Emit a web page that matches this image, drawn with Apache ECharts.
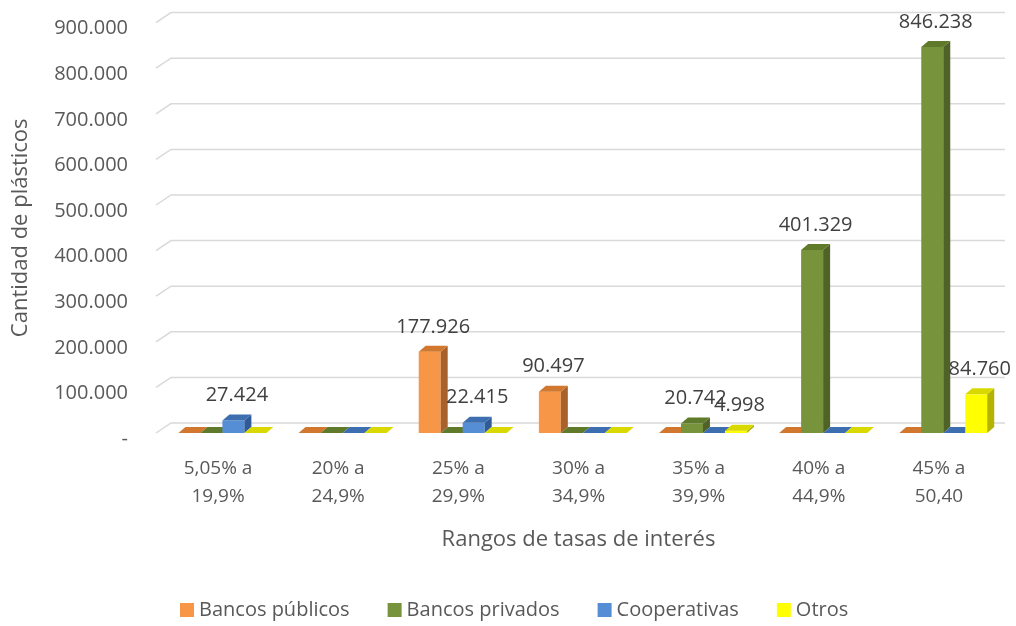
<!DOCTYPE html>
<html>
<head>
<meta charset="utf-8">
<script src="https://cdn.jsdelivr.net/npm/echarts@6/dist/echarts.min.js"></script>
<style>
  html, body { margin: 0; padding: 0; background: #fff; }
  #chart { width: 1016px; height: 626px; }
</style>
</head>
<body>
<div id="chart"></div>
<script>
var categories = ['5,05% a\n19,9%', '20% a\n24,9%', '25% a\n29,9%', '30% a\n34,9%', '35% a\n39,9%', '40% a\n44,9%', '45% a\n50,40']
var bancosPublicos = [0, 0, 177926, 90497, 0, 0, 0]
var bancosPrivados = [0, 0, 0, 0, 20742, 401329, 846238]
var cooperativas = [27424, 0, 22415, 0, 0, 0, 0]
var otros = [0, 0, 0, 0, 4998, 0, 84760]
var yTicks = [0, 100000, 200000, 300000, 400000, 500000, 600000, 700000, 800000, 900000]

var FONT = '"Open Sans", "Liberation Sans", sans-serif'
var DX = 7
var DY = 6

function fmt(v) {
  return String(v).replace(/\B(?=(\d{3})+(?!\d))/g, '.')
}

// 3d-looking bar: front face, side and top
function barRenderer(idx, c) {
  return function (params, api) {
    var cat = api.value(0)
    var val = api.value(1)
    var base = api.coord([cat, 0])
    var top = api.coord([cat, val])
    var band = api.size([1, 0])[0]
    var w = band * 0.183
    var x0 = base[0] - band * 0.33 + idx * w
    var y0 = base[1]
    var y1 = top[1]
    var children = [
      {
        type: 'rect',
        shape: { x: x0, y: y1, width: w, height: y0 - y1 },
        style: { fill: c.front }
      },
      {
        type: 'polygon',
        shape: { points: [[x0 + w, y1], [x0 + w + DX, y1 - DY], [x0 + w + DX, y0 - DY], [x0 + w, y0]] },
        style: { fill: c.side }
      },
      {
        type: 'polygon',
        shape: { points: [[x0, y1], [x0 + DX, y1 - DY], [x0 + w + DX, y1 - DY], [x0 + w, y1]] },
        style: { fill: c.top }
      }
    ]
    if (val > 0) {
      children.push({
        type: 'text',
        style: {
          text: fmt(val),
          x: x0 + w / 2 + DX / 2,
          y: y1 - 25,
          align: 'center',
          verticalAlign: 'middle',
          fill: '#404040',
          fontSize: 20,
          fontFamily: FONT
        }
      })
    }
    return { type: 'group', children: children }
  }
}

function gridRenderer(params, api) {
  var cs = params.coordSys
  var y = api.coord([0, api.value(1)])[1]
  return {
    type: 'polyline',
    shape: { points: [[cs.x - 2, y], [cs.x + 13, y - 10], [cs.x + cs.width + 6, y - 10]] },
    style: { stroke: '#d9d9d9', lineWidth: 1.5, fill: null }
  }
}

var palette = [
  { front: '#F79646', top: '#D2782E', side: '#A8612A' },
  { front: '#77933C', top: '#5F7A2B', side: '#4F6228' },
  { front: '#558ED5', top: '#3D6FB0', side: '#2F5B99' },
  { front: '#FFFF00', top: '#D9D900', side: '#B3B300' }
]
var names = ['Bancos públicos', 'Bancos privados', 'Cooperativas', 'Otros']
var values = [bancosPublicos, bancosPrivados, cooperativas, otros]

var chart = echarts.init(document.getElementById('chart'))

var series = [
  {
    type: 'custom',
    name: 'grid',
    renderItem: gridRenderer,
    encode: { x: 0, y: 1 },
    data: yTicks.map(function (v) { return [0, v] }),
    silent: true,
    z: 1
  }
]
values.forEach(function (arr, i) {
  series.push({
    type: 'custom',
    name: names[i],
    renderItem: barRenderer(i, palette[i]),
    encode: { x: 0, y: 1 },
    itemStyle: { color: palette[i].front },
    data: arr.map(function (v, j) { return [j, v] }),
    z: 2 + i
  })
})

var option = {
  animation: false,
  textStyle: { fontFamily: FONT },
  grid: { left: 158, right: 17, top: 22.6, bottom: 193 },
  legend: {
    data: names,
    top: 600,
    left: 180,
    icon: 'rect',
    itemWidth: 14,
    itemHeight: 14,
    itemGap: 38,
    padding: 0,
    textStyle: { color: '#595959', fontSize: 20, fontFamily: FONT }
  },
  xAxis: {
    type: 'category',
    data: categories,
    name: 'Rangos de tasas de interés',
    nameLocation: 'middle',
    nameGap: 96,
    nameTextStyle: { color: '#595959', fontSize: 22, fontFamily: FONT },
    axisLine: { show: false },
    axisTick: { show: false },
    axisLabel: {
      color: '#595959',
      fontSize: 19,
      lineHeight: 28,
      margin: 22,
      fontFamily: FONT
    }
  },
  yAxis: {
    type: 'value',
    min: 0,
    max: 900000,
    interval: 100000,
    name: 'Cantidad de plásticos',
    nameLocation: 'middle',
    nameGap: 126,
    nameTextStyle: { color: '#595959', fontSize: 22, fontFamily: FONT },
    axisLine: { show: false },
    axisTick: { show: false },
    splitLine: { show: false },
    axisLabel: {
      color: '#595959',
      fontSize: 20,
      margin: 30,
      verticalAlign: 'top',
      lineHeight: 12,
      fontFamily: FONT,
      formatter: function (v) { return v === 0 ? '-' : fmt(v) }
    }
  },
  series: series
}

chart.setOption(option)
</script>
</body>
</html>
